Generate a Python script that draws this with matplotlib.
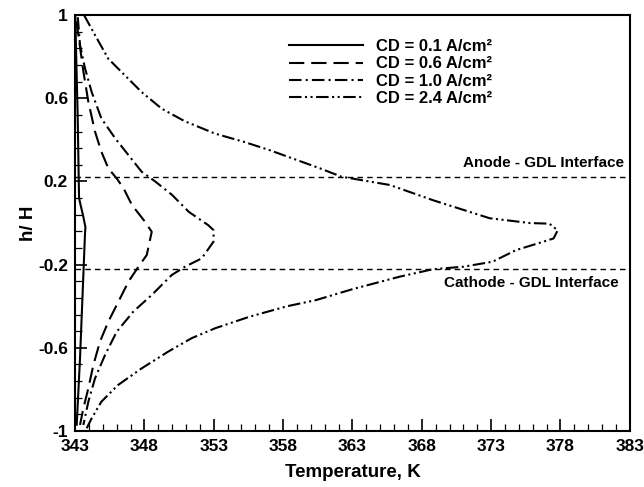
"""
Temperature profile across the membrane (h/H) for several current densities.
"""

import matplotlib
matplotlib.use('Agg')
import matplotlib.pyplot as plt
from matplotlib.ticker import MultipleLocator, FuncFormatter

plt.rcParams['font.family'] = ['Liberation Sans', 'DejaVu Sans']
plt.rcParams['font.weight'] = 'bold'
plt.rcParams['lines.scale_dashes'] = False

TICK_FONT_SIZE = 12.5
LABEL_FONT_SIZE = 13.5

# CD = 0.1 A/cm2
t_01 = [343.02, 343.07, 343.19, 343.29, 343.6, 343.75, 343.72, 343.6, 343.36, 343.12]
h_01 = [1.0, 0.84, 0.52, 0.119, 0.03, -0.02, -0.05, -0.25, -0.65, -0.97]

# CD = 0.6 A/cm2
t_06 = [343.1, 343.24, 343.6, 343.96, 344.44, 344.9, 345.4, 346.0, 346.5, 347.1, 348.05, 348.53, 348.17, 347.57,
        346.85, 346.13, 345.4, 344.8, 344.32, 343.96, 343.6, 343.36]
h_06 = [0.97, 0.904, 0.73, 0.583, 0.44, 0.343, 0.263, 0.215, 0.167, 0.087, 0.006, -0.042, -0.154, -0.21,
        -0.282, -0.378, -0.474, -0.57, -0.683, -0.795, -0.891, -0.971]

# CD = 1.0 A/cm2
t_10 = [343.2, 343.36, 343.72, 344.2, 344.9, 345.9, 346.85, 347.8, 348.8, 350.0, 351.2, 352.6, 353.0, 352.98,
        352.13, 350.93, 349.97, 348.53, 347.2, 346.0, 345.16, 344.44, 343.96, 343.6]
h_10 = [0.99, 0.856, 0.744, 0.63, 0.503, 0.407, 0.327, 0.247, 0.199, 0.135, 0.054, -0.01, -0.035, -0.09,
        -0.17, -0.21, -0.25, -0.346, -0.426, -0.523, -0.635, -0.747, -0.859, -0.971]

# CD = 2.4 A/cm2
t_24 = [343.65, 344.44, 345.4, 346.6, 347.8, 349.25, 350.9, 353.1, 355.2, 357.05, 360.66, 362.2, 365.7, 368.8,
        372.9, 375.8, 377.2, 377.8, 377.5, 376.75, 374.8, 373.1, 371.0, 368.8, 366.4, 363.0, 360.4, 358.3, 355.6,
        353.1, 351.4, 349.7, 347.8, 346.1, 344.9, 344.2, 343.84]
h_24 = [1.0, 0.904, 0.79, 0.71, 0.63, 0.55, 0.49, 0.43, 0.39, 0.35, 0.263, 0.223, 0.183, 0.11,
        0.023, 0.0, -0.003, -0.035, -0.074, -0.09, -0.13, -0.186, -0.21, -0.222, -0.258, -0.318, -0.37, -0.40, -0.45,
        -0.506, -0.554, -0.619, -0.699, -0.779, -0.859, -0.939, -0.987]

interface_h = [0.22, -0.22]
interface_labels = ['Anode - GDL Interface', 'Cathode - GDL Interface']

series = [
    (t_01, h_01, 'CD = 0.1 A/cm²', '-'),
    (t_06, h_06, 'CD = 0.6 A/cm²', (0, (11, 5))),
    (t_10, h_10, 'CD = 1.0 A/cm²', (0, (9, 3, 1.5, 3))),
    (t_24, h_24, 'CD = 2.4 A/cm²', (0, (9, 2.5, 1.5, 2.5, 1.5, 2.5))),
]

fig = plt.figure(figsize=(6.44, 4.87), dpi=100)
ax = fig.add_axes([0.1165, 0.115, 0.8615, 0.854])

for t, h, label, ls in series:
    ax.plot(t, h, color='black', linewidth=1.5, linestyle=ls, label=label)

# Interface lines
for y in interface_h:
    ax.axhline(y, color='black', linewidth=1.0, linestyle=(0, (4, 3)))
ax.text(382.6, interface_h[0] + 0.035, interface_labels[0], ha='right', va='bottom',
        fontsize=11, fontweight='bold')
ax.text(382.2, interface_h[1] - 0.035, interface_labels[1], ha='right', va='top',
        fontsize=11, fontweight='bold')

ax.set_xlim(343, 383)
ax.set_ylim(-1, 1)

ax.xaxis.set_major_locator(MultipleLocator(5, offset=3))
ax.xaxis.set_minor_locator(MultipleLocator(1))
ax.yaxis.set_major_locator(MultipleLocator(0.4, offset=0.2))
ax.yaxis.set_minor_locator(MultipleLocator(0.08, offset=0.2))
ax.yaxis.set_major_formatter(FuncFormatter(lambda v, p: f'{v:g}' if abs(v) > 1e-9 else '0'))

ax.tick_params(axis='both', which='major', direction='in', length=8.5, width=1.2,
               labelsize=TICK_FONT_SIZE, top=False, right=False)
ax.tick_params(axis='both', which='minor', direction='in', length=5, width=0.9,
               top=False, right=False)
ax.tick_params(axis='x', pad=6)
ax.tick_params(axis='y', pad=5)
for lbl in ax.get_xticklabels() + ax.get_yticklabels():
    lbl.set_fontweight('bold')

for spine in ax.spines.values():
    spine.set_linewidth(1.5)

ax.set_xlabel('Temperature, K', fontsize=LABEL_FONT_SIZE, fontweight='bold', labelpad=7)
ax.set_ylabel('h/ H', fontsize=LABEL_FONT_SIZE, fontweight='bold', labelpad=1)

ax.legend(loc='upper left', bbox_to_anchor=(0.374, 0.958), frameon=False, fontsize=12,
          handlelength=4.4, handletextpad=0.8, labelspacing=0.13, borderaxespad=0)

fig.savefig('out.png', dpi=100)
